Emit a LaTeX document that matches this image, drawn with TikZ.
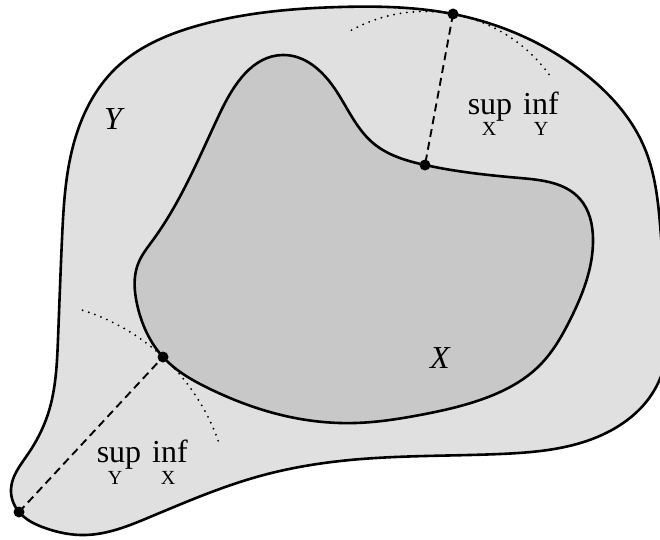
\documentclass[tikz,border=0pt]{standalone}
\usepackage{fontspec}
\setmainfont{Liberation Serif}
\usetikzlibrary{calc,hobby}
\definecolor{outerfill}{RGB}{224,224,224}
\definecolor{innerfill}{RGB}{200,200,200}
\begin{document}
\begin{tikzpicture}[x=1pt,y=1pt,
  outline/.style={line width=2.6pt, line join=round},
  conn/.style={line width=1.9pt, dash pattern=on 8pt off 5pt},
  arcdot/.style={line width=2.1pt, line cap=round, dash pattern=on 0pt off 6.5pt},
  pt/.style={circle, fill=black, inner sep=0pt, minimum size=11pt},
  bigtxt/.style={anchor=base, inner sep=0pt, font=\fontsize{32}{38}\selectfont},
  subtxt/.style={anchor=base, inner sep=0pt, font=\fontsize{20}{24}\selectfont}]
\useasboundingbox (0,0) rectangle (660,539);
% key points
\coordinate (pout1) at (453,525);
\coordinate (pin1) at (425,374);
\coordinate (pout2) at (19,27);
\coordinate (pin2) at (163,182);
% outer set Y
\draw[outline, fill=outerfill, use Hobby shortcut, closed=true]
  (pout2) .. (11,50) .. (28,85) .. (48,125) .. (58,200) .. (62,300)
  .. (75,400) .. (115,470) .. (200,514) .. (340,532) .. (pout1)
  .. (580,469) .. (645,390) .. (663,280) .. (655,150) .. (610,108)
  .. (500,85) .. (350,79) .. (260,63) .. (150,22) .. (85,4) .. (45,11);
% inner set X
\draw[outline, fill=innerfill, use Hobby shortcut, closed=true]
  (pin2) .. (137,235) .. (138,275) .. (153,299) .. (220,426) .. (283,484)
  .. (335,450) .. (373,396) .. (pin1) .. (520,361) .. (580,340)
  .. (593,300) .. (570,219) .. (540,174) .. (480,139) .. (420,124)
  .. (355,116) .. (290,122) .. (210,150);
% dotted arcs
\draw[arcdot] let \p1=($(pout1)-(pin1)$), \n1={veclen(\x1,\y1)} in
  ($(pin1)+(118.6:\n1)$) arc[start angle=118.6, end angle=33.8, radius=\n1];
\draw[arcdot] let \p1=($(pin2)-(pout2)$), \n1={veclen(\x1,\y1)} in
  ($(pout2)+(72.5:\n1)$) arc[start angle=72.5, end angle=18.4, radius=\n1];
% connectors
\draw[conn] (pout1) -- (pin1);
\draw[conn] (pout2) -- (pin2);
\node[pt] (dout1) at (pout1) {};
\node[pt] (din1) at (pin1) {};
\node[pt] (dout2) at (pout2) {};
\node[pt] (din2) at (pin2) {};
% labels
\node[bigtxt] (lY) at (113,409) {\itshape Y};
\node[bigtxt] (lX) at (440,171) {\itshape X};
\node[bigtxt] (sup1) at (490,424) {sup};
\node[bigtxt] (inf1) at (541,424) {inf};
\node[subtxt] (sub1a) at (489,403) {X};
\node[subtxt] (sub1b) at (541,403) {Y};
\node[bigtxt] (sup2) at (119,77) {sup};
\node[bigtxt] (inf2) at (170,77) {inf};
\node[subtxt] (sub2a) at (115,55) {Y};
\node[subtxt] (sub2b) at (168,55) {X};
\end{tikzpicture}
\end{document}
